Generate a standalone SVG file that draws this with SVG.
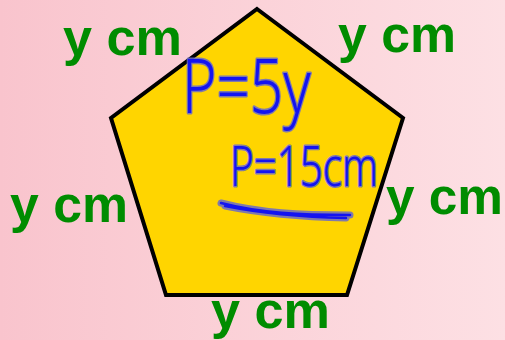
<svg xmlns="http://www.w3.org/2000/svg" width="505" height="340" viewBox="0 0 505 340">
<defs>
<linearGradient id="bg" x1="0" y1="0" x2="1" y2="0">
<stop offset="0" stop-color="#f9c4cd"/>
<stop offset="1" stop-color="#fde0e4"/>
</linearGradient>
<style>
.lbl{font-family:"Liberation Sans",Arial,sans-serif;font-weight:bold;font-size:52px;fill:#008c00}
.ink{font-family:"Noto Sans","DejaVu Sans",sans-serif;font-weight:300;fill:#1414f0;stroke:#6a6ac8;stroke-width:3;stroke-linejoin:round;paint-order:stroke;stroke-opacity:0.85}
.inkline{fill:none;stroke-linecap:round;stroke-linejoin:round}
</style>
</defs>
<rect width="505" height="340" fill="url(#bg)"/>
<g id="pentagon">
<polygon points="257,9 403,118 347,295 166,295 111,118" fill="#ffd500" stroke="#000" stroke-width="4" stroke-linejoin="miter"/>
</g>
<g id="labels">
<text class="lbl" x="63" y="55" textLength="119" lengthAdjust="spacingAndGlyphs">y cm</text>
<text class="lbl" x="338" y="52" textLength="118" lengthAdjust="spacingAndGlyphs">y cm</text>
<text class="lbl" x="10" y="222" textLength="118" lengthAdjust="spacingAndGlyphs">y cm</text>
<text class="lbl" x="386" y="214" textLength="117" lengthAdjust="spacingAndGlyphs">y cm</text>
<text class="lbl" x="211" y="328" textLength="119" lengthAdjust="spacingAndGlyphs">y cm</text>
</g>
<g id="handwriting">
<text class="ink" transform="translate(182,113) scale(0.77,1)" font-size="76">P=5y</text>
<text class="ink" transform="translate(230,186) scale(0.72,1)" font-size="56">P=15cm</text>
<path class="inkline" d="M221,203 C260,213 300,215 350,215 M225,206 C265,214 305,217 346,218" stroke="#6a6ac8" stroke-width="7" stroke-opacity="0.85"/>
<path class="inkline" d="M221,203 C260,213 300,215 350,215 M225,206 C265,214 305,217 346,218" stroke="#1414f0" stroke-width="2.5"/>
</g>
</svg>
